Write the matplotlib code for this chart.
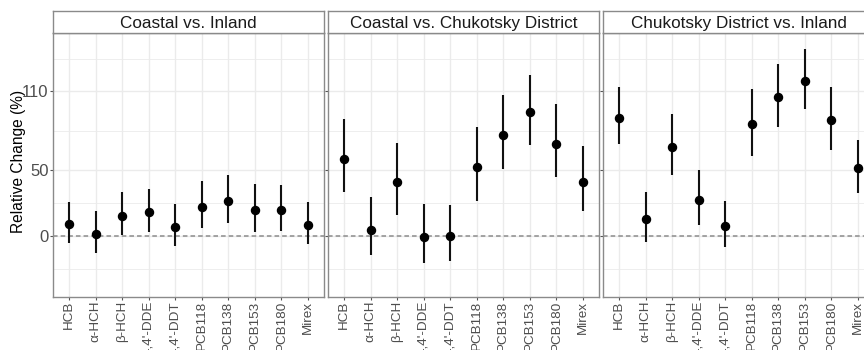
"""Relative change of contaminant levels between regions, three facets."""

import matplotlib
matplotlib.use("Agg")
import matplotlib.pyplot as plt
import numpy as np

plt.rcParams["font.family"] = ["Liberation Sans", "DejaVu Sans"]

compounds = ["HCB", "α-HCH", "β-HCH", "4,4'-DDE", "4,4'-DDT",
             "PCB118", "PCB138", "PCB153", "PCB180", "Mirex"]
facets = ["Coastal vs. Inland", "Coastal vs. Chukotsky District",
          "Chukotsky District vs. Inland"]

# estimate, lower, upper (%)
coastal_inland_est = [9.4, 1.5, 15.5, 18.0, 6.9, 22.3, 26.7, 20.1, 20.1, 8.4]
coastal_inland_lo = [-5.1, -13.2, 0.5, 3.0, -7.6, 6.1, 9.6, 3.3, 4.1, -6.4]
coastal_inland_hi = [26.2, 19.0, 33.7, 35.8, 24.1, 41.9, 46.5, 39.6, 39.1, 25.9]

coastal_chuk_est = [58.9, 4.8, 40.9, -0.8, -0.3, 52.3, 76.9, 94.2, 70.1, 41.4]
coastal_chuk_lo = [33.5, -14.7, 16.0, -20.3, -18.8, 26.7, 50.8, 69.5, 44.7, 19.0]
coastal_chuk_hi = [89.4, 29.7, 71.1, 24.6, 23.3, 83.0, 107.4, 122.4, 100.5, 68.5]

chuk_inland_est = [89.9, 12.7, 68.0, 27.4, 7.4, 85.0, 105.6, 118.0, 88.4, 51.6]
chuk_inland_lo = [69.8, -4.3, 46.7, 8.1, -8.1, 61.2, 82.8, 97.0, 65.7, 33.0]
chuk_inland_hi = [113.2, 33.5, 92.9, 50.3, 26.4, 111.7, 131.2, 142.2, 113.7, 73.1]

y_major = [0, 50, 110]
y_minor = [-25, 25, 80, 135]

series = [
    (coastal_inland_est, coastal_inland_lo, coastal_inland_hi),
    (coastal_chuk_est, coastal_chuk_lo, coastal_chuk_hi),
    (chuk_inland_est, chuk_inland_lo, chuk_inland_hi),
]

W, H = 864, 350
fig = plt.figure(figsize=(W / 100, H / 100), dpi=100)

border = "#8a8a8a"
grid = "#ebebeb"
x = np.arange(len(compounds))

panel_left = [53, 328, 603]
panel_w = 271
top_px, strip_px, bottom_px = 11, 33, 297

for i, (title, (est, lo, hi)) in enumerate(zip(facets, series)):
    left = panel_left[i] / W
    ax = fig.add_axes([left, (H - bottom_px) / H, panel_w / W,
                       (bottom_px - strip_px) / H])
    est = np.array(est)
    yerr = [est - np.array(lo), np.array(hi) - est]
    ax.errorbar(x, est, yerr=yerr, fmt="o", color="black", ecolor="#111111",
                elinewidth=1.5, ms=5.8, capsize=0, zorder=4)
    ax.axhline(0, color="#8c8c8c", lw=1.1, ls=(0, (3, 2)), zorder=3)

    ax.set_xlim(-0.6, len(compounds) - 0.4)
    ax.set_ylim(-46.5, 154.5)
    ax.set_xticks(x)
    ax.set_xticklabels(compounds, rotation=90, fontsize=9.7, color="#4d4d4d")
    ax.set_yticks(y_major)
    ax.set_yticks(y_minor, minor=True)
    if i == 0:
        ax.set_yticklabels([str(v) for v in y_major], fontsize=12,
                           color="#4d4d4d")
        ax.set_ylabel("Relative Change (%)", fontsize=11.2)
        ax.yaxis.set_label_coords((26 - 53) / panel_w, 0.515)
    else:
        ax.set_yticklabels([])
        ax.tick_params(axis="y", length=0)
    ax.tick_params(axis="both", which="major", length=2.2, width=0.8,
                   color="#555555", pad=1)
    ax.tick_params(axis="x", which="major", pad=0.6)
    ax.tick_params(axis="y", which="minor", length=0)
    ax.grid(True, which="major", color=grid, lw=1.0, zorder=0)
    ax.grid(True, which="minor", axis="y", color=grid, lw=0.6, zorder=0)
    ax.set_axisbelow(True)
    for s in ax.spines.values():
        s.set_color(border)
        s.set_linewidth(1.0)

    sax = fig.add_axes([left, (H - strip_px) / H, panel_w / W,
                        (strip_px - top_px) / H])
    sax.set_xticks([])
    sax.set_yticks([])
    for s in sax.spines.values():
        s.set_color(border)
        s.set_linewidth(1.0)
    sax.text(0.5, 0.45, title, ha="center", va="center", fontsize=12.3,
             color="#1a1a1a", transform=sax.transAxes)

fig.savefig("out.png", dpi=100)
